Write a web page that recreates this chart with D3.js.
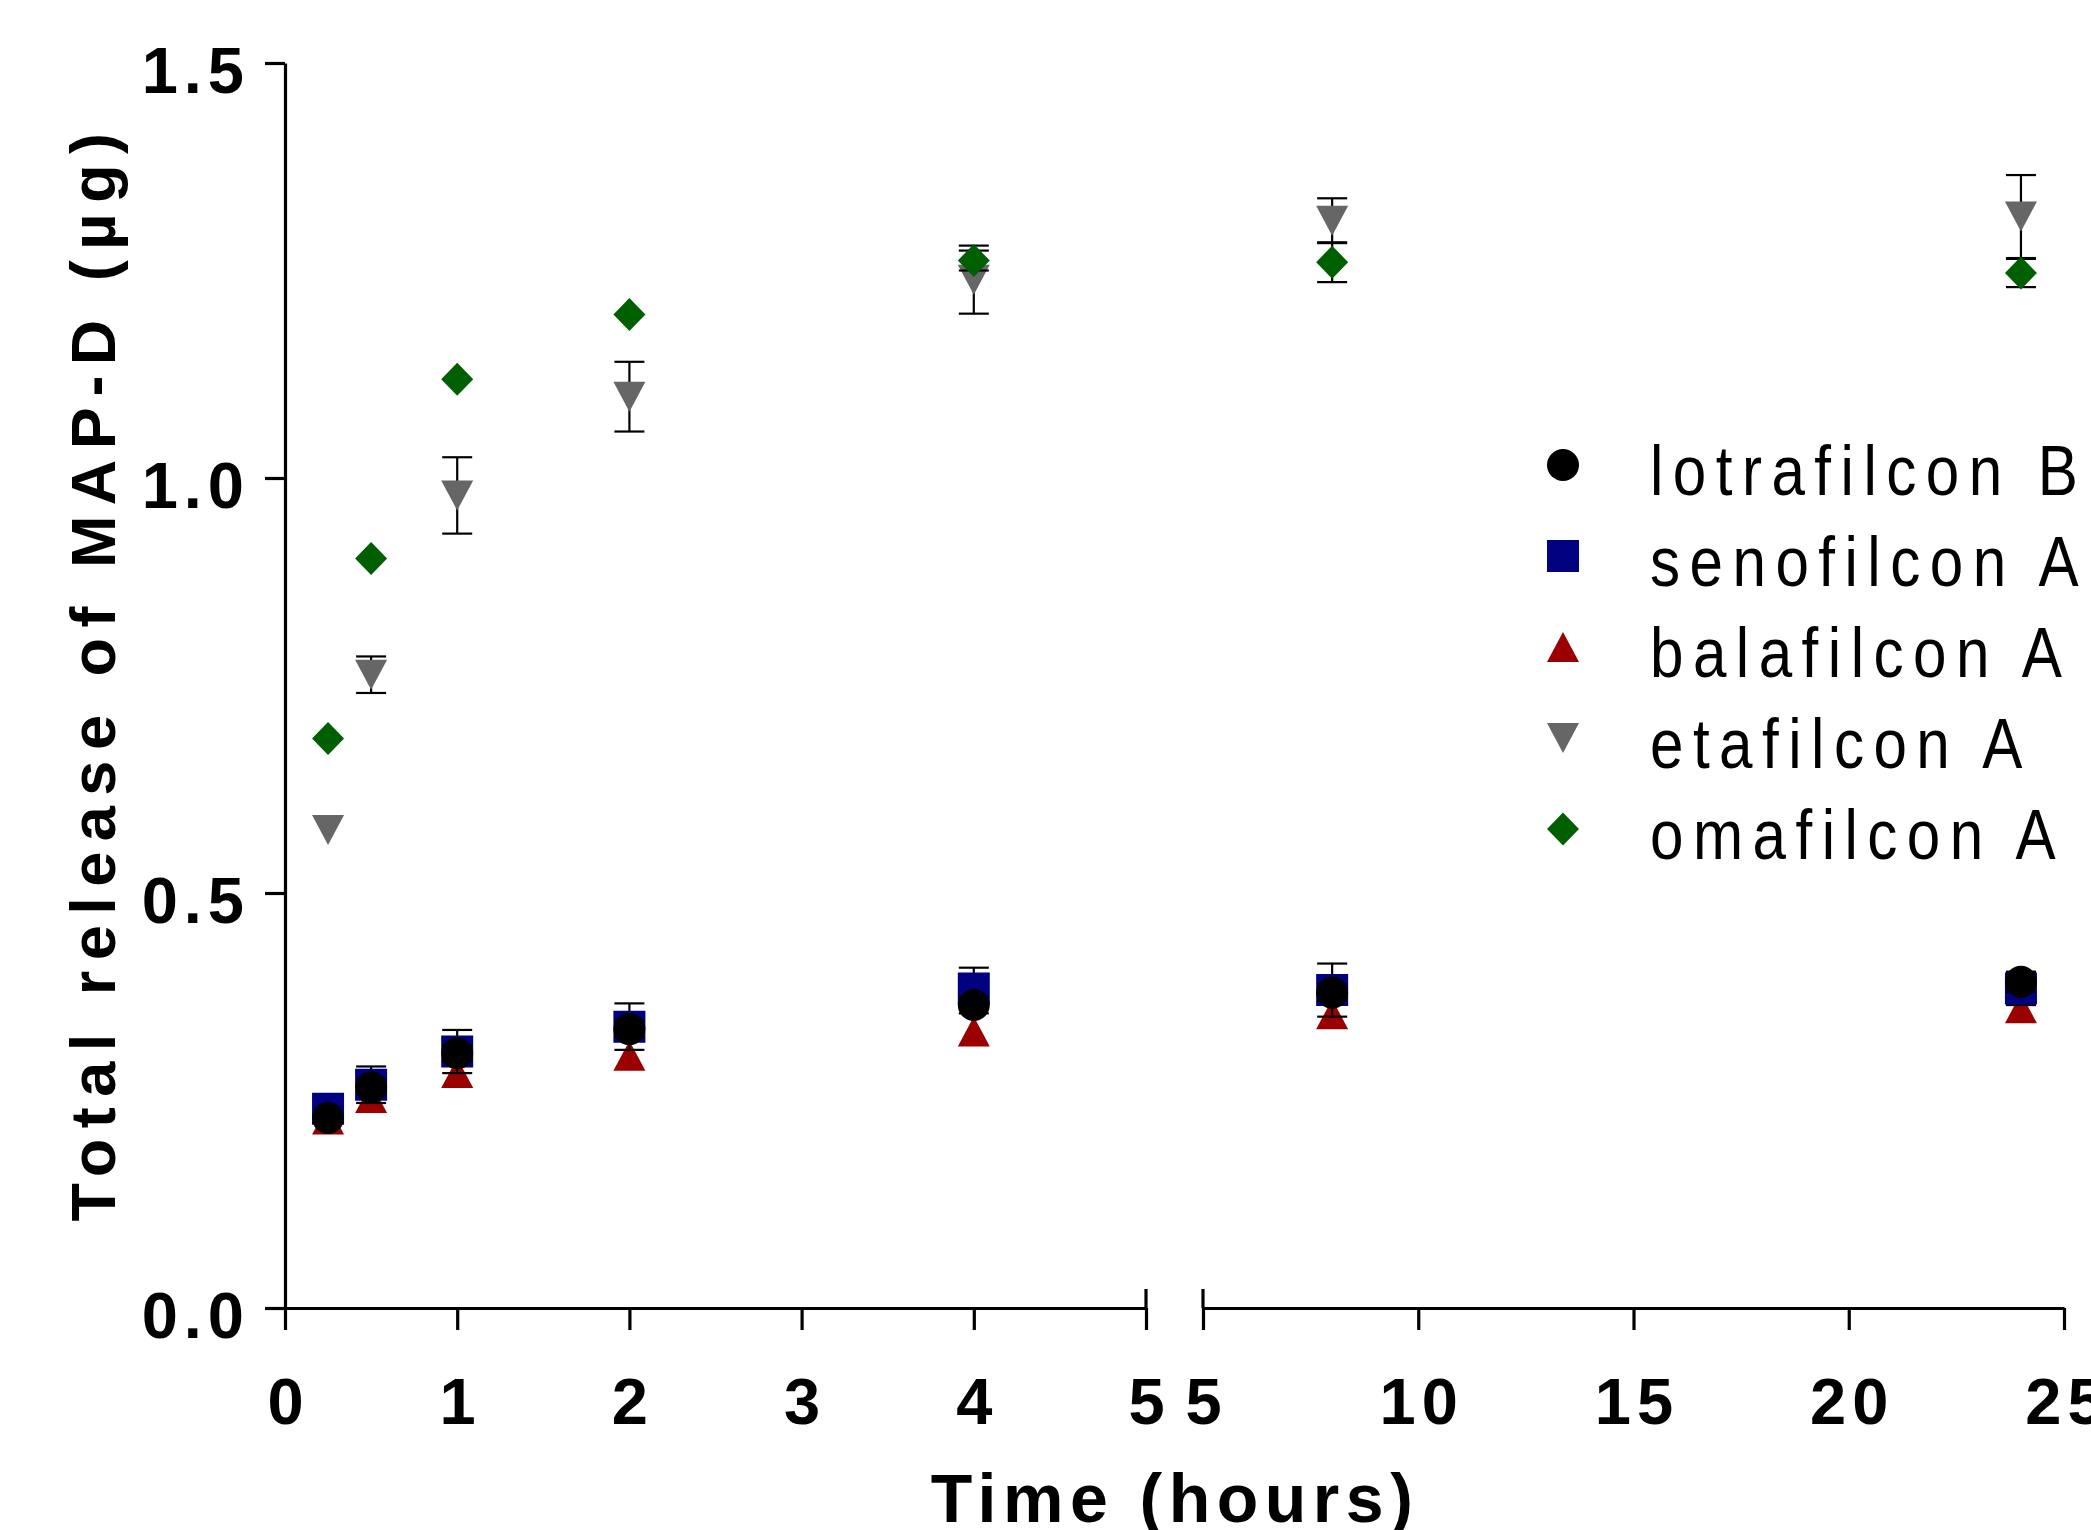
<!DOCTYPE html>
<html>
<head>
<meta charset="utf-8">
<script src="https://cdn.jsdelivr.net/npm/d3@7"></script>
<style>
  html, body { margin: 0; padding: 0; background: #fff; }
  svg { display: block; }
</style>
</head>
<body>
<svg id="chart" width="2091" height="1530"></svg>
<script>
// ---- data ----
const times = [0.25, 0.5, 1, 2, 4, 8, 24];
const seriesNames = ["lotrafilcon B", "senofilcon A", "balafilcon A", "etafilcon A", "omafilcon A"];
const lotrafilconB = [0.229, 0.266, 0.307, 0.336, 0.365, 0.380, 0.393];
const lotrafilconBErr = [0, 0.008, 0.010, 0.010, 0.010, 0.010, 0.012];
const senofilconA = [0.240, 0.269, 0.309, 0.339, 0.385, 0.383, 0.385];
const senofilconAErr = [0, 0.022, 0.026, 0.028, 0.025, 0.032, 0.020];
const balafilconA = [0.227, 0.253, 0.283, 0.304, 0.333, 0.354, 0.361];
const balafilconAErr = [0, 0, 0, 0, 0, 0, 0];
const etafilconA = [0.576, 0.763, 0.979, 1.098, 1.239, 1.310, 1.315];
const etafilconAErr = [0, 0.022, 0.046, 0.042, 0.041, 0.027, 0.050];
const omafilconA = [0.686, 0.903, 1.119, 1.197, 1.262, 1.260, 1.247];
const omafilconAErr = [0, 0, 0, 0, 0.012, 0.024, 0.017];
const yTicks = [0, 0.5, 1.0, 1.5];
const xTicksLeft = [0, 1, 2, 3, 4, 5];
const xTicksRight = [5, 10, 15, 20, 25];
const yTitle = "Total release of MAP-D (\u00B5g)";
const xTitle = "Time (hours)";

// ---- styles ----
const colors = {
  "lotrafilcon B": "#000000",
  "senofilcon A": "#000080",
  "balafilcon A": "#9b0000",
  "etafilcon A": "#666666",
  "omafilcon A": "#005f00"
};
const shapes = {
  "lotrafilcon B": "circle",
  "senofilcon A": "square",
  "balafilcon A": "triUp",
  "etafilcon A": "triDown",
  "omafilcon A": "diamond"
};
const valuesBy = {
  "lotrafilcon B": [lotrafilconB, lotrafilconBErr],
  "senofilcon A": [senofilconA, senofilconAErr],
  "balafilcon A": [balafilconA, balafilconAErr],
  "etafilcon A": [etafilconA, etafilconAErr],
  "omafilcon A": [omafilconA, omafilconAErr]
};
const drawOrder = ["balafilcon A", "etafilcon A", "omafilcon A", "senofilcon A", "lotrafilcon B"];

function shapePath(kind) {
  const w = 32;
  const h = w / 2;
  switch (kind) {
    case "circle": { const r = 16; return `M${-r},0A${r},${r} 0 1,0 ${r},0A${r},${r} 0 1,0 ${-r},0Z`; }
    case "square": return `M-16,-16H16V16H-16Z`;
    case "triUp": return `M0,-15L${h},15L${-h},15Z`;
    case "triDown": return `M0,15L${h},-15L${-h},-15Z`;
    case "diamond": return `M0,-16.5L${h},0L0,16.5L${-h},0Z`;
  }
}

const svg = d3.select("#chart");
const FONT = "'Liberation Sans', Arial, Helvetica, sans-serif";

const y = d3.scaleLinear().domain([0, 1.5]).range([1308, 63]);
const xa = d3.scaleLinear().domain([0, 5]).range([285, 1146]);
const xb = d3.scaleLinear().domain([5, 25]).range([1203, 2064]);
const xpos = t => (t <= 5 ? xa(t) : xb(t));

// ---- axes ----
function styleAxis(g) {
  g.select(".domain").attr("stroke", "#000").attr("stroke-width", 3.2);
  g.selectAll(".tick line").attr("stroke", "#000").attr("stroke-width", 3.2);
  g.selectAll(".tick text")
    .attr("fill", "#000")
    .style("font-family", FONT)
    .style("font-weight", "bold")
    .style("font-size", "65px")
    .style("letter-spacing", "6px");
}

const yAxis = svg.append("g")
  .attr("transform", `translate(${xa(0)},0)`)
  .call(d3.axisLeft(y).tickValues(yTicks).tickFormat(d3.format(".1f"))
    .tickSize(20).tickSizeOuter(0).tickPadding(15))
  .call(styleAxis);
yAxis.selectAll(".tick text").attr("dy", "0.46em");

const xAxisL = svg.append("g")
  .attr("transform", `translate(0,${y(0)})`)
  .call(d3.axisBottom(xa).tickValues(xTicksLeft).tickFormat(d3.format("d"))
    .tickSize(22).tickSizeOuter(0).tickPadding(48))
  .call(styleAxis);

const xAxisR = svg.append("g")
  .attr("transform", `translate(0,${y(0)})`)
  .call(d3.axisBottom(xb).tickValues(xTicksRight).tickFormat(d3.format("d"))
    .tickSize(22).tickSizeOuter(0).tickPadding(48))
  .call(styleAxis);

[xAxisL, xAxisR].forEach(g => g.selectAll(".tick text").attr("dy", "0.71em").attr("dx", "3px"));

// break marks (upward part of tick at axis break)
svg.append("g").selectAll("line")
  .data([xa(5), xb(5)])
  .join("line")
  .attr("x1", d => d).attr("x2", d => d)
  .attr("y1", y(0) - 19).attr("y2", y(0))
  .attr("stroke", "#000").attr("stroke-width", 3.2);

// ---- data marks ----
const plot = svg.append("g");
drawOrder.forEach(name => {
  const [vals, errs] = valuesBy[name];
  const pts = times.map((t, i) => ({ t, v: vals[i], e: errs[i] }));
  const withErr = pts.filter(d => d.e > 0);
  const eg = plot.append("g").attr("class", "err");
  eg.selectAll("line.stem").data(withErr).join("line")
    .attr("x1", d => xpos(d.t)).attr("x2", d => xpos(d.t))
    .attr("y1", d => y(d.v + d.e)).attr("y2", d => y(d.v - d.e))
    .attr("stroke", "#000").attr("stroke-width", 2.2);
  eg.selectAll("line.capTop").data(withErr).join("line")
    .attr("x1", d => xpos(d.t) - 15).attr("x2", d => xpos(d.t) + 15)
    .attr("y1", d => y(d.v + d.e)).attr("y2", d => y(d.v + d.e))
    .attr("stroke", "#000").attr("stroke-width", 2.2);
  eg.selectAll("line.capBot").data(withErr).join("line")
    .attr("x1", d => xpos(d.t) - 15).attr("x2", d => xpos(d.t) + 15)
    .attr("y1", d => y(d.v - d.e)).attr("y2", d => y(d.v - d.e))
    .attr("stroke", "#000").attr("stroke-width", 2.2);
  plot.append("g").selectAll("path").data(pts).join("path")
    .attr("d", shapePath(shapes[name]))
    .attr("transform", d => `translate(${xpos(d.t)},${y(d.v)})`)
    .attr("fill", colors[name]);
});

// ---- legend ----
const legendY = d3.scalePoint().domain(seriesNames).range([465, 829]);
const legend = svg.append("g");
seriesNames.forEach(name => {
  legend.append("path")
    .attr("d", shapePath(shapes[name]))
    .attr("transform", `translate(1563,${legendY(name)})`)
    .attr("fill", colors[name]);
  legend.append("g")
    .attr("transform", `translate(1650,${legendY(name) + 30}) scale(0.86,1)`)
    .append("text")
    .attr("x", 0).attr("y", 0)
    .style("font-family", FONT)
    .style("font-size", "70px")
    .style("letter-spacing", "11px")
    .attr("fill", "#000")
    .text(name);
});

// ---- titles ----
svg.append("text")
  .attr("transform", `translate(115,672) rotate(-90)`)
  .attr("text-anchor", "middle")
  .style("font-family", FONT)
  .style("font-weight", "bold")
  .style("font-size", "63px")
  .style("letter-spacing", "10.5px")
  .attr("fill", "#000")
  .text(yTitle);

svg.append("text")
  .attr("x", 1175).attr("y", 1522)
  .attr("text-anchor", "middle")
  .style("font-family", FONT)
  .style("font-weight", "bold")
  .style("font-size", "68px")
  .style("letter-spacing", "6.5px")
  .attr("fill", "#000")
  .text(xTitle);
</script>
</body>
</html>
